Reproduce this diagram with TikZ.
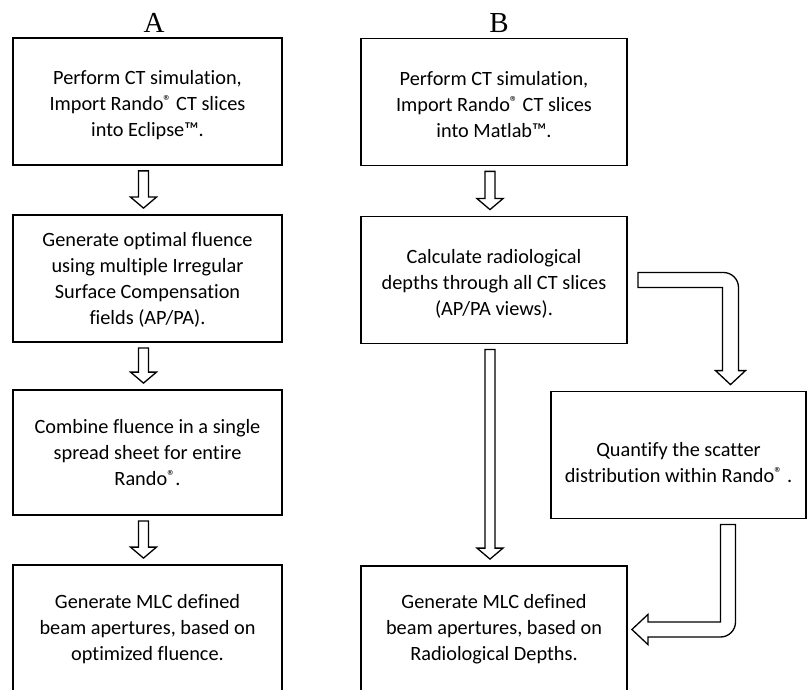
\documentclass[tikz,border=0pt]{standalone}
\usepackage{fontspec}
\setmainfont{Carlito}[Ligatures=NoCommon]
\newfontfamily\letterfont{Liberation Serif}
\usetikzlibrary{calc}

\newcommand{\reg}{\raisebox{0.45ex}{\fontsize{16}{16}\selectfont ®}}

\begin{document}
\begin{tikzpicture}[x=1pt, y=-1pt,
    box/.style={draw, line width=1.8pt, rectangle, inner sep=0pt, minimum height=127pt},
    abox/.style={box, minimum width=269pt},
    bbox/.style={box, minimum width=266pt},
    txt/.style={font=\fontsize{20.3}{26}\selectfont, align=center},
    letter/.style={font=\letterfont\fontsize{29}{30}\selectfont, anchor=base},
    hollow/.style={draw, line width=1.3pt, fill=white, line join=miter}
]
\useasboundingbox (0,0) rectangle (807,690);

% column headings
\node[letter] (labA) at (154,33) {A};
\node[letter] (labB) at (499,33) {B};

% column A
\node[abox] (a1) at (147.5,101.5) {};
\node[txt] (a1t) at (147.5,105) {Perform CT simulation,\\Import Rando\reg{} CT slices\\into Eclipse™.};

\node[abox] (a2) at (147.5,278.5) {};
\node[txt] (a2t) at (147.5,279.5) {Generate optimal fluence\\using multiple Irregular\\Surface Compensation\\fields (AP/PA).};

\node[abox, minimum height=125pt] (a3) at (147.5,452.5) {};
\node[txt] (a3t) at (147.5,453) {Combine fluence in a single\\spread sheet for entire\\Rando\reg.};

\node[abox] (a4) at (147.5,628.5) {};
\node[txt] (a4t) at (147.5,629) {Generate MLC defined\\beam apertures, based on\\optimized fluence.};

% column B
\node[bbox] (b1) at (494,102) {};
\node[txt] (b1t) at (494,105) {Perform CT simulation,\\Import Rando\reg{} CT slices\\into Matlab™.};

\node[bbox] (b2) at (494,280) {};
\node[txt] (b2t) at (494,284) {Calculate radiological\\depths through all CT slices\\(AP/PA views).};

\node[box, minimum width=255pt] (b3) at (678.5,455) {};
\node[txt] (b3t) at (678.5,462.5) {Quantify the scatter\\distribution within Rando\reg{} .};

\node[bbox] (b4) at (494,629.5) {};
\node[txt] (b4t) at (494,629) {Generate MLC defined\\beam apertures, based on\\Radiological Depths.};

% straight hollow arrows
\newcommand{\hollowdown}[2]{%
  \draw[hollow] let \p1=($(#1.south)+(-4pt,0)$), \p2=(#2.north) in
    (\x1-5pt,\y1-5pt) -- (\x1+5pt,\y1-5pt) -- (\x1+5pt,\y2+17pt) -- (\x1+13pt,\y2+17pt)
    -- (\x1,\y2+6pt) -- (\x1-13pt,\y2+17pt) -- (\x1-5pt,\y2+17pt) -- cycle;}
\hollowdown{a1}{a2}
\hollowdown{a2}{a3}
\hollowdown{a3}{a4}
\hollowdown{b1}{b2}
\hollowdown{b2}{b4}

% bent arrow to scatter box
\draw[hollow] let \p1=(b2.east), \p2=(b3.north) in
  (\x1+10pt,\y1+7.5pt) -- (\x2+45pt,\y1+7.5pt)
  .. controls (\x2+53.3pt,\y1+7.5pt) and (\x2+60pt,\y1+0.8pt) .. (\x2+60pt,\y1-7.5pt)
  -- (\x2+60pt,\y2+20pt) -- (\x2+67pt,\y2+20pt) -- (\x2+52pt,\y2+6pt)
  -- (\x2+37pt,\y2+20pt) -- (\x2+44pt,\y2+20pt) -- (\x2+44pt,\y1-7.5pt)
  -- (\x1+10pt,\y1-7.5pt) -- cycle;

% bent arrow back to final box
\draw[hollow] let \p1=(b3.south), \p2=(b4.east) in
  (\x1+42pt,\y1-5pt) -- (\x1+57pt,\y1-5pt) -- (\x1+57pt,\y2+7.5pt)
  .. controls (\x1+57pt,\y2-0.8pt) and (\x1+50.3pt,\y2-7.5pt) .. (\x1+42pt,\y2-7.5pt)
  -- (\x2+20pt,\y2-7.5pt) -- (\x2+20pt,\y2-15pt) -- (\x2+4pt,\y2)
  -- (\x2+20pt,\y2+15pt) -- (\x2+20pt,\y2+7.5pt) -- (\x1+42pt,\y2+7.5pt) -- cycle;

\end{tikzpicture}
\end{document}
